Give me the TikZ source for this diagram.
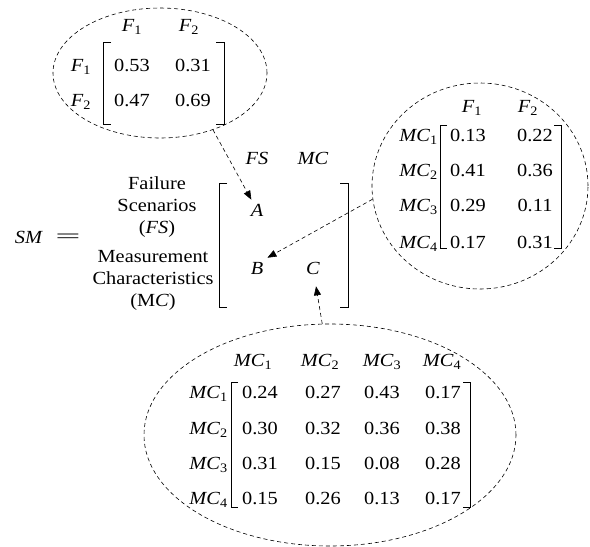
\documentclass[tikz,border=0pt]{standalone}
\usepackage{fontspec}
\setmainfont[FakeStretch=1.1]{Liberation Serif}
\usetikzlibrary{shapes.geometric,arrows.meta}
\newcommand\vsub[2]{\textit{#1}\textsubscript{#2}}
\begin{document}
\begin{tikzpicture}[x=1pt,y=-1pt,
  every node/.style={font=\fontsize{18.5}{22}\selectfont, inner sep=2pt},
  brk/.style={line width=0.8pt},
  dsh/.style={dash pattern=on 4pt off 3pt, line width=0.6pt},
  arr/.style={dsh, -{Triangle[length=9pt,width=7pt]}},
  oval/.style={ellipse, draw, dsh, inner sep=0pt},
  rlab/.style={anchor=east, inner sep=1pt}]
\useasboundingbox (0,0) rectangle (590,547);

% ellipses
\node[oval, minimum width=214pt, minimum height=130pt] (e1) at (160,73) {};
\node[oval, minimum width=216pt, minimum height=206pt] (e2) at (480,186) {};
\node[oval, minimum width=372pt, minimum height=222pt] (e3) at (330,435) {};

% top matrix
\node (t1) at (132,27) {\vsub{F}{1}};
\node (t2) at (189,27) {\vsub{F}{2}};
\node (tr1) at (81,67) {\vsub{F}{1}};
\node (tr2) at (81,102) {\vsub{F}{2}};
\node (t11) at (132,65) {0.53};
\node (t12) at (193,65) {0.31};
\node (t21) at (132,100) {0.47};
\node (t22) at (193,100) {0.69};
\draw[brk] (111,42) -- (103,42) -- (103,124) -- (111,124);
\draw[brk] (216,42) -- (224,42) -- (224,124) -- (216,124);

% middle
\node (sm) at (29,237) {\textit{SM}};
\node (eq) at (68,238) {\scalebox{2.2}[1]{=}};
\node[align=center] (fs) at (157,207) {Failure\\Scenarios\\(\textit{FS})};
\node[align=center] (mc) at (153,280) {Measurement\\Characteristics\\(M\textit{C})};
\node (hfs) at (257,158) {\textit{FS}};
\node (hmc) at (313,158) {\textit{MC}};
\node[inner sep=4pt] (A) at (257,210) {\textit{A}};
\node[inner sep=4pt] (B) at (257,268) {\textit{B}};
\node[inner sep=4pt] (C) at (313,268) {\textit{C}};
\draw[brk] (227,183) -- (219,183) -- (219,307) -- (227,307);
\draw[brk] (340,183) -- (348,183) -- (348,307) -- (340,307);

% right matrix
\node (r1) at (472,108) {\vsub{F}{1}};
\node (r2) at (528,108) {\vsub{F}{2}};
\node[rlab] (rr1) at (439,137) {\vsub{MC}{1}};
\node[rlab] (rr2) at (439,172) {\vsub{MC}{2}};
\node[rlab] (rr3) at (439,207) {\vsub{MC}{3}};
\node[rlab] (rr4) at (439,244) {\vsub{MC}{4}};
\node (r11) at (468,135) {0.13};
\node (r12) at (535,135) {0.22};
\node (r21) at (468,170) {0.41};
\node (r22) at (535,170) {0.36};
\node (r31) at (468,205) {0.29};
\node (r32) at (535,205) {0.11};
\node (r41) at (468,242) {0.17};
\node (r42) at (535,242) {0.31};
\draw[brk] (447,125) -- (440,125) -- (440,248) -- (447,248);
\draw[brk] (554,125) -- (561,125) -- (561,248) -- (554,248);

% bottom matrix
\node (b1) at (253,362) {\vsub{MC}{1}};
\node (b2) at (320,362) {\vsub{MC}{2}};
\node (b3) at (382,362) {\vsub{MC}{3}};
\node (b4) at (442,362) {\vsub{MC}{4}};
\node[rlab] (br1) at (229,394) {\vsub{MC}{1}};
\node[rlab] (br2) at (229,430) {\vsub{MC}{2}};
\node[rlab] (br3) at (229,465) {\vsub{MC}{3}};
\node[rlab] (br4) at (229,500) {\vsub{MC}{4}};
\node (b11) at (260,392) {0.24};
\node (b12) at (323,392) {0.27};
\node (b13) at (382,392) {0.43};
\node (b14) at (443,392) {0.17};
\node (b21) at (260,428) {0.30};
\node (b22) at (323,428) {0.32};
\node (b23) at (382,428) {0.36};
\node (b24) at (443,428) {0.38};
\node (b31) at (260,463) {0.31};
\node (b32) at (323,463) {0.15};
\node (b33) at (382,463) {0.08};
\node (b34) at (443,463) {0.28};
\node (b41) at (260,498) {0.15};
\node (b42) at (323,498) {0.26};
\node (b43) at (382,498) {0.13};
\node (b44) at (443,498) {0.17};
\draw[brk] (238,382) -- (231,382) -- (231,507) -- (238,507);
\draw[brk] (463,382) -- (470,382) -- (470,507) -- (463,507);

% connectors
\draw[arr] (e1.-47) -- (A);
\draw[arr] (e2.187) -- (B.north east);
\draw[arr, shorten >=8pt] (e3.94) -- (C);
\end{tikzpicture}
\end{document}
